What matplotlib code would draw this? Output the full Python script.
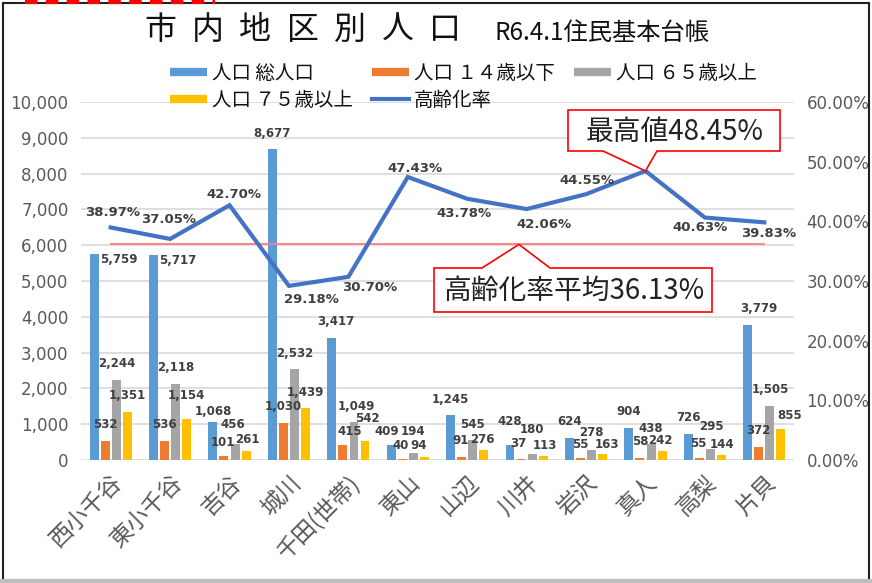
import matplotlib
matplotlib.use("Agg")
import matplotlib.pyplot as plt
from matplotlib.lines import Line2D
from matplotlib.patches import Polygon, Rectangle

plt.rcParams['font.family'] = ['Noto Sans CJK JP', 'DejaVu Sans']

# -------------------------------
# data (R6.4.1 住民基本台帳)
# -------------------------------
districts = ['西小千谷', '東小千谷', '吉谷', '城川', '千田(世帯)', '東山',
             '山辺', '川井', '岩沢', '真人', '高梨', '片貝']
pop_total = [5759, 5717, 1068, 8677, 3417, 409, 1245, 428, 624, 904, 726, 3779]
pop_u14 = [532, 536, 101, 1030, 415, 40, 91, 37, 55, 58, 55, 372]
pop_o65 = [2244, 2118, 456, 2532, 1049, 194, 545, 180, 278, 438, 295, 1505]
pop_o75 = [1351, 1154, 261, 1439, 542, 94, 276, 113, 163, 242, 144, 855]
aging_rate = [38.97, 37.05, 42.70, 29.18, 30.70, 47.43, 43.78, 42.06, 44.55, 48.45, 40.63, 39.83]
aging_avg = 36.13

series_names = ['人口 総人口', '人口 １４歳以下', '人口 ６５歳以上', '人口 ７５歳以上']
colors = ['#5B9BD5', '#ED7D31', '#A5A5A5', '#FFC000']
line_color = '#4472C4'
txt_dark = '#404040'
txt_gray = '#595959'

W, H = 872, 583


def fpos(x, y):
    # pixel position -> figure fraction
    return x / W, 1 - y / H


fig = plt.figure(figsize=(W / 100, H / 100), dpi=100)
ax = fig.add_axes([81 / W, 1 - 460 / H, 713 / W, 358 / H])
ax2 = ax.twinx()

# -------------------------------
# bars
# -------------------------------
x = list(range(len(districts)))
offsets = [-0.28, -0.095, 0.095, 0.28]
bw = 0.15
all_series = [pop_total, pop_u14, pop_o65, pop_o75]
for s, vals in enumerate(all_series):
    ax.bar([i + offsets[s] for i in x], vals, width=bw, color=colors[s], zorder=2)

# label tweaks: (series, index) -> (dx, dy, ha, va) in points
lbl_tweak = {
    (0, 0): (4, -4, 'left', 'center'),
    (0, 1): (4, -4, 'left', 'center'),
    (3, 1): (0, 12, 'center', 'bottom'),
    (0, 2): (0, 3, 'center', 'bottom'),
    (1, 2): (-1, 5, 'center', 'bottom'),
    (2, 2): (-2, 9, 'center', 'bottom'),
    (3, 2): (1, 3, 'center', 'bottom'),
    (0, 4): (3, 7, 'center', 'bottom'),
    (1, 4): (5, 5, 'center', 'bottom'),
    (2, 4): (2, 7, 'center', 'bottom'),
    (3, 4): (2, 11, 'center', 'bottom'),
    (0, 5): (-3, 5, 'center', 'bottom'),
    (1, 5): (-1, 5, 'center', 'bottom'),
    (2, 5): (0, 11, 'center', 'bottom'),
    (3, 5): (-4, 3, 'center', 'bottom'),
    (1, 6): (-1, 7, 'center', 'bottom'),
    (3, 6): (-1, 3, 'center', 'bottom'),
    (0, 7): (0, 12, 'center', 'bottom'),
    (1, 7): (-2, 6, 'center', 'bottom'),
    (2, 7): (0, 13, 'center', 'bottom'),
    (3, 7): (1, 3, 'center', 'bottom'),
    (1, 8): (0, 5, 'center', 'bottom'),
    (2, 8): (0, 8, 'center', 'bottom'),
    (3, 8): (3, 2, 'center', 'bottom'),
    (3, 9): (-1, 3, 'center', 'bottom'),
    (1, 10): (-1, 6, 'center', 'bottom'),
    (2, 10): (1, 12, 'center', 'bottom'),
    (3, 10): (0, 3, 'center', 'bottom'),
    (0, 11): (8, 7, 'center', 'bottom'),
    (3, 11): (6, 5, 'center', 'bottom'),
}
for s, vals in enumerate(all_series):
    for i, v in enumerate(vals):
        dx, dy, ha, va = lbl_tweak.get((s, i), (0, 7, 'center', 'bottom'))
        ax.annotate(f'{v:,}', (i + offsets[s], v), xytext=(dx, dy),
                    textcoords='offset points', ha=ha, va=va,
                    fontsize=8.5, fontweight='bold', color=txt_dark,
                    family='DejaVu Sans', zorder=5)

ax.set_xlim(-0.5, len(districts) - 0.5)
ax.set_ylim(0, 10000)
ax.set_yticks(range(0, 10001, 1000))
ax.set_yticklabels([f'{v:,}' for v in range(0, 10001, 1000)])
ax.yaxis.grid(True, color='#D9D9D9', lw=1.2, zorder=0)
ax.set_axisbelow(True)
ax.set_xticks(x)
ax.set_xticklabels(districts, rotation=45, ha='right', rotation_mode='anchor',
                   fontsize=16.5, color=txt_gray)
ax.tick_params(axis='x', length=0, pad=8)
ax.tick_params(axis='y', length=0, pad=9, labelsize=12, labelcolor=txt_gray)
for lab in ax.get_yticklabels():
    lab.set_family('DejaVu Sans')
for sp in ax.spines.values():
    sp.set_visible(False)

# -------------------------------
# aging rate line
# -------------------------------
ax2.plot(x, aging_rate, color=line_color, lw=3, zorder=4, solid_joinstyle='miter')
ax2.plot([x[0], x[-1]], [aging_avg, aging_avg], color='#FF7C80', lw=1.3, zorder=3)
ax2.set_ylim(0, 60)
ax2.set_yticks(range(0, 61, 10))
ax2.set_yticklabels([f'{v:.2f}%' for v in range(0, 61, 10)])
ax2.tick_params(axis='y', length=0, pad=9, labelsize=12, labelcolor=txt_gray)
for lab in ax2.get_yticklabels():
    lab.set_family('DejaVu Sans')
for sp in ax2.spines.values():
    sp.set_visible(False)

# label offsets in pixels (dx, dy), None = no label
rate_off = [(2, 15), (-2, 19), (4, 11), (22, -14), (21, -11), (7, 9),
            (-3, -15), (17, -15), (1, 14), None, (-5, -10), (4, -11)]
for i, v in enumerate(aging_rate):
    if rate_off[i] is None:
        continue
    dx, dy = rate_off[i]
    ax2.annotate(f'{v:.2f}%', (i, v), xytext=(dx * 0.72, dy * 0.72),
                 textcoords='offset points', ha='center', va='center',
                 fontsize=9.5, fontweight='bold', color=txt_dark,
                 family='DejaVu Sans', zorder=6)

# -------------------------------
# callouts
# -------------------------------
def to_px(xd, yd):
    px, py = ax2.transData.transform((xd, yd))
    return px, H - py


def callout(box, gap, tip, text, fs):
    x0, y0, x1, y1 = box
    g0, g1 = gap
    tx, ty = tip
    if ty > y1:   # pointer below box
        pts = [(x0, y0), (x1, y0), (x1, y1), (g1, y1), (tx, ty), (g0, y1), (x0, y1)]
    else:         # pointer above box
        pts = [(x0, y0), (g0, y0), (tx, ty), (g1, y0), (x1, y0), (x1, y1), (x0, y1)]
    poly = Polygon([fpos(px, py) for px, py in pts], closed=True,
                   transform=fig.transFigure, fc='white', ec='#FF0000', lw=1.2, zorder=10)
    fig.add_artist(poly)
    fig.text(*fpos((x0 + x1) / 2 + 1, (y0 + y1) / 2 + 1), text, ha='center', va='center',
             fontsize=fs, color='#222222', zorder=11)


imax = aging_rate.index(max(aging_rate))
callout((568, 110, 780, 151), (603, 657), to_px(imax, aging_rate[imax]),
        f'最高値{max(aging_rate):.2f}%', 20)
callout((434, 268, 712, 312), (482, 550), to_px(6.87, aging_avg),
        f'高齢化率平均{aging_avg:.2f}%', 20)

# -------------------------------
# title & legend
# -------------------------------
title = '市内地区別人口'
for k, ch in enumerate(title):
    fig.text(*fpos(160 + k * 47.5, 30), ch, ha='center', va='center',
             fontsize=23, color='#111111')
fig.text(*fpos(494, 33), 'R6.4.1住民基本台帳', ha='left', va='center',
         fontsize=17.5, color='#111111')

handles = [Line2D([], [], color=c, lw=6, solid_capstyle='butt') for c in colors]
handles.append(Line2D([], [], color=line_color, lw=3))
labels = series_names + ['高齢化率']
order = [0, 3, 1, 4, 2]
fig.legend([handles[k] for k in order], [labels[k] for k in order],
           loc='upper left', bbox_to_anchor=fpos(160, 53), ncol=3, frameon=False,
           fontsize=14, handlelength=1.9, handletextpad=0.25, columnspacing=1.0,
           labelspacing=0.3, borderpad=0, labelcolor='#111111')

# -------------------------------
# frame
# -------------------------------
fig.add_artist(Rectangle(fpos(3, 580), 866 / W, 577 / H, transform=fig.transFigure,
                         fill=False, ec='#222222', lw=1.5))
fig.add_artist(Rectangle((0, 0), 1, 4 / H, transform=fig.transFigure,
                         fc='#BFBFBF', ec='none'))
fig.add_artist(Line2D([25 / W, 215 / W], [1 - 1.5 / H, 1 - 1.5 / H], transform=fig.transFigure,
                      color='red', lw=3, dashes=(3, 2)))

fig.savefig('out.png', dpi=100)
